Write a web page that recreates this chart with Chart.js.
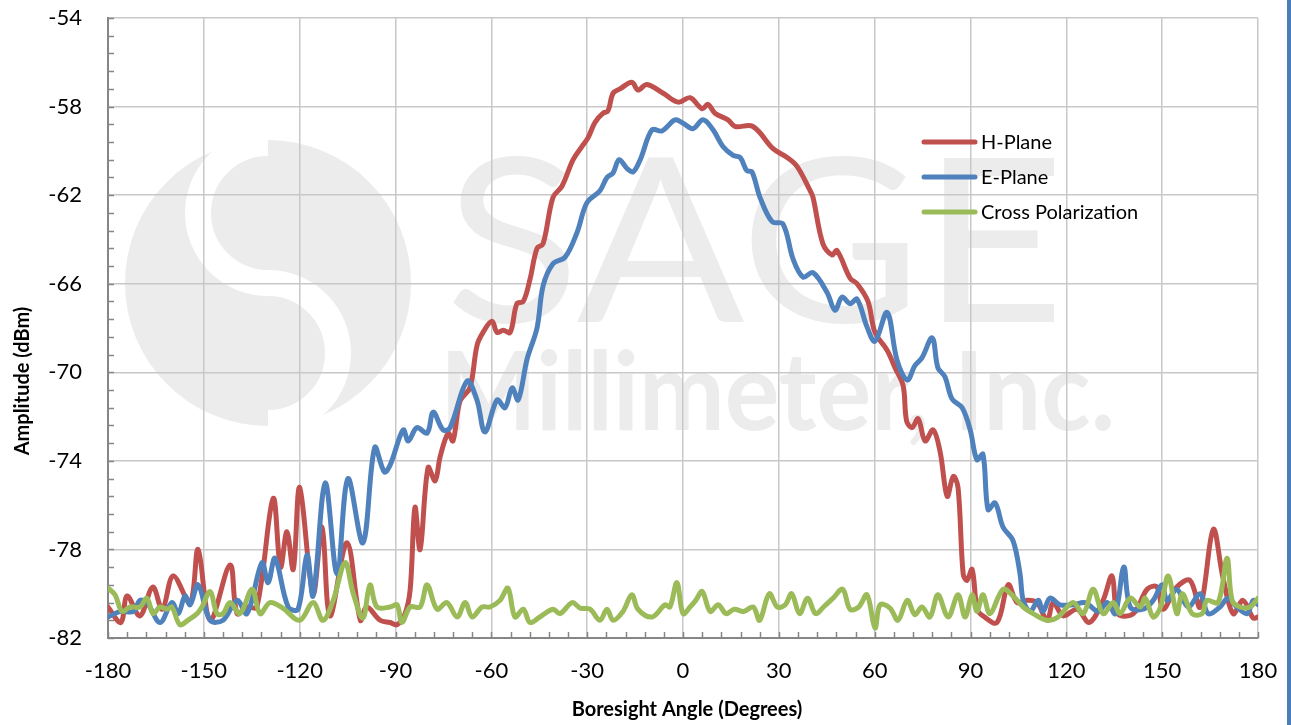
<!DOCTYPE html>
<html><head><meta charset="utf-8">
<script src="https://cdn.jsdelivr.net/npm/chart.js@4.4.1/dist/chart.umd.min.js"></script>
<style>html,body{margin:0;padding:0;background:#fff;overflow:hidden}#wrap{position:relative;width:1291px;height:725px}canvas{display:block}</style>
</head><body><div id="wrap"><canvas id="c" width="1291" height="725"></canvas></div>
<script>
// ---- data ----
const xTickValues = [-180,-150,-120,-90,-60,-30,0,30,60,90,120,150,180];
const yTickValues = [-82,-78,-74,-70,-66,-62,-58,-54];
const seriesNames = ["H-Plane","E-Plane","Cross Polarization"];

const hAngles = [-180,-176,-174,-170,-166,-163,-159.6,-154.3,-151.8,-148,-141.8,-139.6,-136.5,-133.4,-128.3,-126,-124,-122,-120,-115.8,-113,-110.5,-105.2,-101,-99,-94.8,-91.7,-89.5,-87,-85.4,-83.9,-82.3,-79.8,-77.6,-76,-73.5,-72,-69.8,-66.7,-64.5,-62.6,-59.8,-58.2,-56.3,-54.1,-52,-50,-47.9,-45.7,-43.8,-40.7,-37.9,-34.4,-31.6,-29.7,-27.5,-25,-23.5,-21.9,-19.7,-16,-14.1,-11.3,-6.2,-1.5,2.2,6,7.8,10,14.1,16.3,21.9,28.2,32.6,35.7,39.8,40.7,43.8,46.7,48.2,52.3,54.5,57.9,60.1,63.9,66.4,68.9,70,71.7,73.6,75.8,78.3,80.5,82.7,84.6,86.1,87.7,88.9,90.5,92.1,93.9,98.3,101.8,104.6,107.7,110.8,114,115.9,119,123.4,127.2,131.5,134.3,136.2,141,145.3,148.4,150.3,154.6,158.7,161.9,166,169,172.2,175.3,178.5,180];
const hValues = [-80.6,-81.3,-80.1,-81.0,-79.7,-80.7,-79.2,-80.4,-78.0,-81.2,-78.7,-80.9,-80.6,-80.6,-75.7,-78.8,-77.2,-78.9,-75.2,-80.0,-77.0,-81.0,-77.7,-81.2,-80.6,-81.2,-81.3,-81.4,-80.9,-79.8,-76.1,-78.0,-74.3,-74.9,-73.8,-72.75,-73.1,-71.3,-70.7,-68.8,-68.2,-67.7,-68.2,-68.1,-68.2,-66.9,-66.8,-65.8,-64.4,-64.2,-62.1,-61.6,-60.4,-59.8,-59.4,-58.7,-58.3,-58.2,-57.4,-57.2,-56.9,-57.25,-57.0,-57.4,-57.8,-57.6,-58.1,-57.9,-58.3,-58.6,-58.9,-58.9,-59.9,-60.3,-60.7,-61.8,-62.1,-64.2,-64.7,-64.5,-65.75,-66.0,-66.8,-68.2,-69.0,-69.8,-70.6,-72.2,-72.5,-72.1,-73.1,-72.6,-73.6,-75.6,-74.7,-75.2,-79.1,-79.4,-78.9,-80.7,-81.0,-81.3,-79.6,-80.4,-80.3,-80.4,-81.2,-80.4,-81.0,-80.7,-81.3,-80.3,-79.2,-80.9,-80.9,-79.8,-79.7,-80.7,-79.7,-79.4,-80.6,-77.1,-79.25,-80.9,-80.3,-81.1,-81.05];

const eAngles = [-180,-176,-172,-170,-167.8,-163.7,-160,-158,-155.9,-154.3,-151.8,-148,-144,-139.6,-136.5,-131.8,-129.9,-127.7,-123.6,-120.5,-117.7,-115.8,-112,-108.3,-104.9,-100.2,-96.5,-93.5,-91.7,-87.6,-86,-83.3,-80.1,-78.2,-75.1,-72.9,-67.6,-64.5,-62,-58.2,-55.7,-53.5,-51.6,-48.8,-45.7,-43.8,-40.7,-36.9,-33.2,-30.1,-26,-23.8,-21.9,-20,-17.5,-15.6,-13.4,-9.7,-6.6,-2.5,0,3.1,6.3,9.4,12.5,15.7,17.9,20,21.6,24.1,27.9,31.3,34.5,37.6,40.7,45.1,47.6,49.8,52.3,54.5,57.6,60.1,63.9,67,70.2,72.6,74.8,78,79.8,82,84.2,87.4,89.9,92,93.9,95.5,97.7,100.2,103.3,105.5,106.5,108.7,111.2,112.7,114.9,118,122.1,125.9,130,132.8,135.3,138,140,144,147.2,150,151.5,154.6,158.1,161.9,164.4,168.1,170.6,173.4,176.6,178.5,180];
const eValues = [-81.05,-80.8,-80.8,-80.3,-80.4,-81.3,-80.4,-80.9,-80.1,-80.5,-79.6,-81.2,-81.2,-80.3,-80.9,-78.6,-79.5,-78.4,-80.6,-80.7,-78.25,-80.1,-75.0,-79.1,-74.8,-77.7,-73.4,-74.5,-74.2,-72.6,-73.1,-72.5,-72.75,-71.8,-72.6,-72.5,-70.4,-71.25,-72.7,-71.25,-71.6,-70.7,-71.25,-69.4,-68.0,-66.1,-65.1,-64.8,-63.7,-62.35,-61.8,-61.2,-61.0,-60.4,-60.8,-60.95,-60.4,-59.05,-59.1,-58.6,-58.75,-59.0,-58.6,-59.05,-59.8,-60.2,-60.3,-60.9,-60.95,-62.1,-63.2,-63.3,-64.9,-65.7,-65.5,-66.4,-67.2,-66.6,-66.9,-66.7,-67.95,-68.6,-67.3,-69.45,-70.35,-69.7,-69.35,-68.45,-69.8,-70.2,-71.2,-71.6,-72.6,-73.95,-73.7,-76.2,-75.9,-77.0,-77.6,-79.1,-80.3,-80.8,-80.3,-80.8,-80.2,-80.5,-80.5,-80.4,-80.8,-80.4,-80.9,-78.8,-80.6,-80.7,-80.3,-79.6,-80.3,-79.8,-80.6,-80.0,-80.9,-80.6,-80.2,-80.6,-80.9,-80.3,-80.5];

const xAngles = [-180,-177.8,-175.6,-173.1,-170,-167.8,-165.9,-163.7,-161.5,-160,-157.5,-155,-152.1,-150.6,-148,-145.9,-144,-141.8,-138.7,-134.9,-132.4,-129.3,-125.3,-120,-115.8,-112.7,-109.5,-105.8,-103.3,-100.2,-98,-95.8,-91.7,-89.5,-88,-85.4,-82.3,-80.1,-77,-73.9,-70.7,-68.2,-66,-62.9,-60.4,-57.3,-54.8,-52.6,-50,-47.9,-44.8,-40.7,-38.5,-34.7,-32.2,-29.1,-26,-23.8,-21.9,-18.8,-16,-14.1,-9.7,-5.6,-4.1,-1.9,0,2.2,4,6,8.5,11,13.5,16,19,22,24,27,29.5,32,34,36.5,39,41.5,44,47,50,52.3,55,57.6,60.1,61.7,64.8,67.3,70.2,72.6,74.8,77.3,79.8,83,86.1,88.3,90.5,92,93.9,96.1,100.2,103.3,106.5,109.6,114,117.4,122.1,125.3,128.4,131.5,134.7,136.8,140,143.1,144.7,147.2,149.5,151.9,154.6,156.3,159.4,162.5,164,167.5,170.3,171.9,174.4,177.5,180];
const xValues = [-79.75,-80.05,-80.8,-80.6,-80.6,-80.2,-80.9,-80.6,-80.7,-80.6,-81.4,-81.2,-80.9,-80.6,-79.9,-80.9,-80.9,-80.4,-80.9,-79.8,-80.9,-80.4,-80.65,-81.2,-80.4,-81.2,-80.3,-78.6,-79.95,-81.1,-79.6,-80.6,-80.6,-80.5,-81.3,-80.6,-80.6,-79.6,-80.7,-80.4,-81.05,-80.4,-81.05,-80.6,-80.6,-80.3,-79.75,-81.05,-80.7,-81.3,-81.05,-80.7,-80.9,-80.4,-80.65,-80.7,-81.2,-80.7,-81.2,-80.8,-80.05,-80.7,-81.05,-80.5,-80.6,-79.5,-80.9,-80.6,-80.3,-79.9,-80.8,-80.5,-80.9,-80.7,-80.8,-80.6,-81.2,-80.0,-80.6,-80.5,-80.0,-80.9,-80.2,-80.9,-80.6,-80.2,-79.8,-80.7,-80.6,-80.05,-81.55,-80.5,-80.65,-81.2,-80.3,-80.95,-80.6,-81.05,-80.05,-81.05,-80.05,-81.05,-80.05,-80.8,-80.05,-80.9,-79.8,-80.1,-80.6,-80.9,-81.2,-81.05,-80.4,-80.9,-79.8,-80.9,-80.4,-80.9,-80.2,-80.6,-80.2,-81.05,-80.6,-79.2,-80.9,-80.0,-80.9,-80.9,-80.3,-80.4,-78.4,-80.3,-80.6,-80.6,-80.2];

const seriesColors = ["#C0504D","#4F81BD","#9BBB59"];

// ---- helpers ----
const toPoints = (a, v) => a.map((x, i) => ({x: x, y: v[i]}));
const FONT = "Lato, 'Open Sans', sans-serif";

const PLOT = {left:108, right:1258, top:18, bottom:638};

const backgroundPlugin = {
  id: 'bgWatermark',
  beforeDraw(chart) {
    const ctx = chart.ctx;
    ctx.save();
    ctx.fillStyle = '#ffffff';
    ctx.fillRect(0, 0, chart.width, chart.height);
    const wm = '#ececec';
    // logo circle
    ctx.fillStyle = wm;
    ctx.beginPath(); ctx.arc(268, 283, 143, 0, Math.PI*2); ctx.fill();
    // white S swoosh
    ctx.strokeStyle = '#ffffff';
    ctx.lineWidth = 26;
    ctx.beginPath();
    ctx.arc(268, 213, 70, -Math.PI/2, Math.PI/2, true);
    ctx.stroke();
    ctx.beginPath();
    ctx.arc(268, 353, 70, -Math.PI/2, Math.PI/2, false);
    ctx.stroke();
    // SAGE
    ctx.fillStyle = wm;
    ctx.textBaseline = 'alphabetic';
    ctx.textAlign = 'left';
    ctx.font = "230px " + FONT;
    let w = ctx.measureText('SAGE').width;
    ctx.save(); ctx.translate(445, 322); ctx.scale(620 / w, 1); ctx.fillText('SAGE', 0, 0); ctx.restore();
    ctx.font = "bold 110px " + FONT;
    w = ctx.measureText('Millimeter, Inc.').width;
    ctx.save(); ctx.translate(440, 430); ctx.scale(675 / w, 1); ctx.fillText('Millimeter, Inc.', 0, 0); ctx.restore();
    ctx.restore();
  }
};

const decorPlugin = {
  id: 'decor',
  beforeDatasetsDraw(chart) {
    const ctx = chart.ctx;
    const xs = chart.scales.x, ys = chart.scales.y;
    const a = chart.chartArea;
    ctx.save();
    ctx.strokeStyle = '#868686';
    ctx.lineWidth = 1.5;
    ctx.beginPath();
    for (let v = -180; v <= 180; v += 6) {
      const px = Math.round(xs.getPixelForValue(v)) + 0.5;
      ctx.moveTo(px, a.bottom); ctx.lineTo(px, a.bottom - 6);
    }
    for (let k = 0; k <= 35; k++) {
      const v = -82 + k * 0.8;
      const py = Math.round(ys.getPixelForValue(v)) + 0.5;
      ctx.moveTo(a.left, py); ctx.lineTo(a.left + 6, py);
    }
    ctx.stroke();
    ctx.restore();
  },
  afterDraw(chart) {
    const ctx = chart.ctx;
    ctx.save();
    // legend
    ctx.font = "20px " + FONT;
    ctx.textBaseline = 'middle';
    ctx.textAlign = 'left';
    ctx.lineCap = 'round';
    const ly = [142, 177, 212];
    seriesNames.forEach((n, i) => {
      ctx.strokeStyle = seriesColors[i];
      ctx.lineWidth = 5;
      ctx.beginPath(); ctx.moveTo(924, ly[i]); ctx.lineTo(975, ly[i]); ctx.stroke();
      ctx.fillStyle = '#000';
      ctx.fillText(n, 981, ly[i] + 1);
    });
    // axis titles
    ctx.font = "bold 20px " + FONT;
    ctx.textAlign = 'center';
    ctx.fillText('Boresight Angle (Degrees)', 687, 710);
    ctx.save();
    ctx.translate(23, 381);
    ctx.rotate(-Math.PI/2);
    ctx.fillText('Amplitude (dBm)', 0, 0);
    ctx.restore();
    // right page border
    ctx.fillStyle = '#4A7EBB';
    ctx.fillRect(1287, 0, 4, 725);
    ctx.restore();
  }
};

const mkDs = (label, a, v, color, order) => ({
  label, data: toPoints(a, v), borderColor: color, backgroundColor: color,
  borderWidth: 5, pointRadius: 0, tension: 0.35, fill: false, order,
  borderJoinStyle: 'round', borderCapStyle: 'round'
});

new Chart(document.getElementById('c'), {
  type: 'line',
  data: {
    datasets: [
      mkDs(seriesNames[0], hAngles, hValues, seriesColors[0], 2),
      mkDs(seriesNames[1], eAngles, eValues, seriesColors[1], 1),
      mkDs(seriesNames[2], xAngles, xValues, seriesColors[2], 0)
    ]
  },
  options: {
    responsive: false,
    animation: false,
    devicePixelRatio: 1,
    layout: { padding: { left: 0, top: PLOT.top, right: 1291 - PLOT.right, bottom: 0 } },
    plugins: { legend: { display: false }, tooltip: { enabled: false } },
    scales: {
      x: {
        type: 'linear', min: -180, max: 180,
        afterBuildTicks: s => { s.ticks = xTickValues.map(v => ({value: v})); },
        afterFit: s => { s.height = 725 - PLOT.bottom; s.paddingLeft = 0; s.paddingRight = 0; },
        ticks: { font: { family: FONT, size: 22 }, color: '#000', padding: 20, maxRotation: 0, autoSkip: false },
        grid: { color: '#c8c8c8', lineWidth: 1.5, drawTicks: false },
        border: { color: '#868686', width: 2 }
      },
      y: {
        type: 'linear', min: -82, max: -54,
        afterBuildTicks: s => { s.ticks = yTickValues.map(v => ({value: v})); },
        afterFit: s => { s.width = PLOT.left; s.paddingTop = 0; s.paddingBottom = 0; },
        ticks: { font: { family: FONT, size: 22 }, color: '#000', padding: 26, autoSkip: false },
        grid: { color: '#c8c8c8', lineWidth: 1.5, drawTicks: false },
        border: { color: '#868686', width: 2 }
      }
    }
  },
  plugins: [backgroundPlugin, decorPlugin]
});
</script>
</body></html>
